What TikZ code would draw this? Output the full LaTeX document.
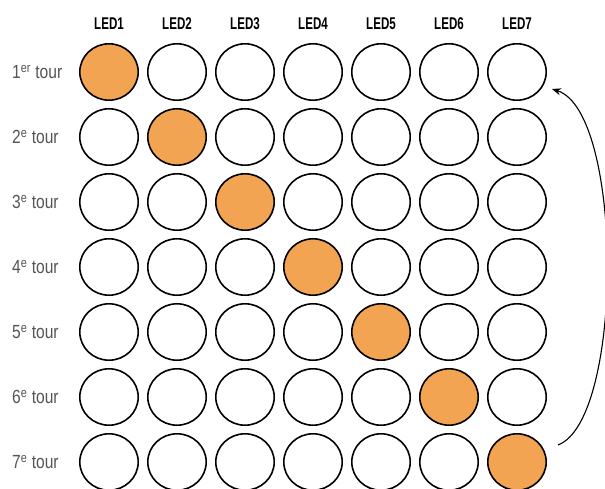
\documentclass[tikz,border=0pt]{standalone}
\usepackage{fontspec}
\usetikzlibrary{arrows.meta,shapes.geometric}
\newfontfamily\ledfont{Liberation Sans}[FakeStretch=0.68]
\newfontfamily\rowfont{Liberation Sans}[FakeStretch=0.82]
\definecolor{ledorange}{RGB}{242,164,82}
\definecolor{rowgray}{RGB}{85,85,85}
\tikzset{
  led/.style={ellipse, draw=black, line width=1.6pt, minimum width=58.4pt, minimum height=56.4pt, inner sep=0pt, fill=white},
  ledon/.style={led, fill=ledorange},
  ledlabel/.style={font=\ledfont\bfseries\fontsize{17}{19}\selectfont, text=black, inner sep=0pt},
  rowlabel/.style={font=\rowfont\fontsize{19}{21}\selectfont, text=rowgray, inner sep=0pt, anchor=west},
  cyclearrow/.style={line width=1.1pt, -{Stealth[length=9pt,width=7pt]}}
}
\begin{document}
\begin{tikzpicture}[x=1pt,y=-1pt]
\useasboundingbox (0,0) rectangle (605,489);
\fill[white] (0,0) rectangle (605,489);
\foreach \j in {1,...,7}{
  \node[ledlabel] (h\j) at ({109+68*(\j-1)},24) {LED\j};
}
\foreach \i/\sup in {1/er,2/e,3/e,4/e,5/e,6/e,7/e}{
  \node[rowlabel] (r\i) at (12,{72+65*(\i-1)}) {\i\textsuperscript{\sup} tour};
  \foreach \j in {1,...,7}{
    \ifnum\i=\j
      \node[ledon] (c\i\j) at ({109+68*(\j-1)},{72+65*(\i-1)}) {};
    \else
      \node[led] (c\i\j) at ({109+68*(\j-1)},{72+65*(\i-1)}) {};
    \fi
  }
}
\coordinate (astart) at (558,445);
\coordinate (aend) at (552,89);
\draw[cyclearrow] (astart) .. controls (624,420) and (624,112) .. (aend);
\end{tikzpicture}
\end{document}
